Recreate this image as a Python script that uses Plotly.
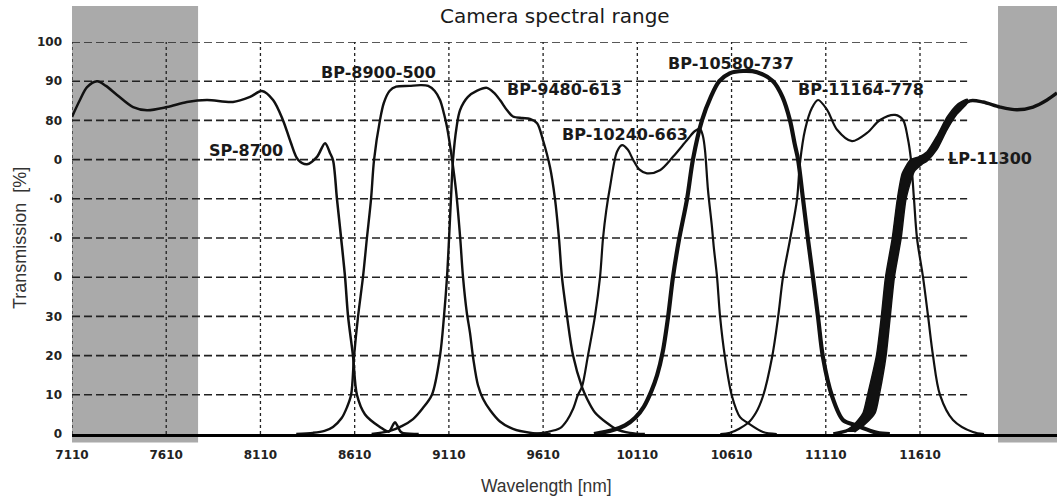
import plotly.graph_objects as go

# ---- filter transmission curves: wavelength [nm] and transmission [%] ----
sp_8700_wl = [7110, 7152, 7190, 7243, 7290, 7349, 7434, 7508, 7614, 7720, 7826, 7964, 8055, 8118,
              8177, 8230, 8270, 8309, 8357, 8410, 8453, 8479, 8495, 8516, 8538, 8559, 8575, 8601,
              8622, 8665, 8744, 8792, 8812, 8824, 8838, 8858, 8950]
sp_8700_t = [80.9, 85.2, 88.5, 90.0, 88.8, 86.5, 83.4, 82.6, 83.4, 84.7, 85.2, 84.7, 86.0, 87.5,
             85.2, 80.0, 74.5, 70.0, 68.8, 70.7, 74.2, 71.7, 69.9, 60.0, 50.0, 40.0, 30.0, 20.0,
             10.0, 5.0, 1.8, 0.6, 2.2, 3.0, 2.0, 0.4, 0.0]

bp_8900_wl = [8300, 8389, 8450, 8495, 8540, 8569, 8591, 8607, 8628, 8654, 8675, 8697, 8713, 8744,
              8765, 8795, 8830, 8900, 8960, 9000, 9035, 9063, 9085, 9100, 9127, 9148, 9170, 9185,
              9205, 9222, 9240, 9264, 9291, 9330, 9381, 9450, 9556, 9650]
bp_8900_t = [0.0, 0.3, 0.8, 1.8, 4.0, 6.8, 10.0, 20.0, 30.0, 40.0, 50.0, 60.0, 70.0, 80.0,
             84.5, 87.5, 88.6, 88.8, 89.0, 88.8, 87.5, 85.2, 81.5, 78.3, 70.0, 62.0, 50.0, 40.0,
             31.0, 25.8, 19.0, 12.5, 9.0, 6.0, 3.2, 1.3, 0.2, 0.0]

bp_9480_wl = [8700, 8798, 8860, 8920, 8970, 9020, 9063, 9084, 9100, 9111, 9121, 9132, 9150, 9169,
              9211, 9260, 9312, 9350, 9381, 9420, 9450, 9500, 9540, 9578, 9609, 9647, 9673, 9694,
              9710, 9737, 9769, 9816, 9843, 9885, 9949, 10000, 10071, 10150]
bp_9480_t = [0.0, 0.8, 2.0, 3.8, 6.5, 10.0, 20.0, 30.0, 40.0, 50.0, 60.0, 70.0, 78.0, 82.6,
             86.0, 87.6, 88.3, 87.0, 85.2, 82.5, 81.0, 80.6, 80.4, 79.3, 75.0, 68.0, 60.0, 50.0,
             40.0, 30.0, 20.0, 12.0, 9.0, 5.5, 2.8, 1.2, 0.3, 0.0]

bp_10240_wl = [9550, 9631, 9700, 9737, 9770, 9795, 9816, 9848, 9885, 9912, 9928, 9945, 9965, 10002,
               10029, 10060, 10087, 10120, 10161, 10230, 10299, 10374, 10416, 10443, 10458, 10469,
               10485, 10506, 10515, 10533, 10549, 10575, 10612, 10655, 10697, 10777, 10850]
bp_10240_t = [0.0, 0.5, 1.5, 3.5, 6.5, 10.0, 12.0, 20.0, 30.0, 40.0, 50.0, 57.0, 63.0, 72.0,
              73.7, 72.5, 70.0, 67.5, 66.5, 67.3, 70.7, 75.0, 77.3, 77.8, 76.0, 72.4,
              62.2, 52.8, 48.0, 40.0, 30.0, 19.6, 9.7, 4.3, 2.8, 0.5, 0.0]

bp_10580_wl = [9880, 9981, 10045, 10100, 10145, 10185, 10215, 10245, 10273, 10299, 10331, 10374,
               10405, 10453, 10500, 10545, 10600, 10671, 10745, 10830, 10880, 10920, 10945, 10963,
               10989, 11016, 11042, 11069, 11095, 11143, 11201, 11265, 11382, 11450]
bp_10580_t = [0.0, 1.0, 2.2, 4.2, 7.0, 11.0, 15.0, 21.0, 29.8, 40.0, 49.5, 60.0,
              70.0, 80.0, 86.0, 90.0, 92.0, 92.6, 92.3, 90.0, 86.0, 80.0, 74.0, 70.0,
              60.0, 49.5, 40.0, 29.8, 19.6, 9.7, 3.6, 2.3, 0.3, 0.0]

bp_11164_wl = [10550, 10602, 10697, 10740, 10777, 10825, 10857, 10883, 10920, 10957, 10973, 11000,
               11037, 11069, 11117, 11170, 11249, 11329, 11398, 11478, 11520, 11545, 11562, 11578,
               11594, 11626, 11653, 11679, 11716, 11785, 11891, 11950]
bp_11164_t = [0.0, 0.3, 2.8, 5.5, 9.7, 19.6, 29.8, 40.0, 49.5, 59.7, 69.1, 77.6,
              83.2, 85.2, 82.7, 77.6, 74.7, 76.8, 80.1, 81.4, 80.1, 75.5, 70.0, 60.0,
              50.0, 40.0, 30.0, 20.0, 10.0, 3.6, 0.5, 0.0]

lp_11300_wl = [11150, 11230, 11290, 11340, 11365, 11406, 11430, 11451, 11485, 11512, 11540, 11573,
               11610, 11647, 11700, 11753, 11806, 11875, 11944, 12035, 12125, 12210, 12284, 12337]
lp_11300_t = [0.0, 1.0, 3.0, 6.5, 10.0, 20.0, 30.0, 40.0, 50.0, 58.0, 64.0, 68.0,
              69.5, 70.8, 74.3, 79.3, 82.7, 85.0, 84.7, 83.4, 82.7, 83.4, 85.2, 87.0]

# spread of the repeated long-pass measurements (upper and lower envelope)
lp_band_upper_wl = [11215, 11262, 11308, 11332, 11379, 11405, 11427, 11463, 11490, 11516, 11560,
                    11600, 11647, 11700, 11753, 11806, 11860]
lp_band_upper_t = [0.5, 2.5, 5.4, 10.0, 20.0, 30.0, 40.0, 50.0, 60.0, 66.5, 70.0,
                   70.6, 72.0, 76.0, 80.8, 84.0, 85.4]
lp_band_lower_wl = [11262, 11318, 11372, 11394, 11430, 11452, 11474, 11510, 11536, 11580, 11620,
                    11647, 11700, 11753, 11806, 11860]
lp_band_lower_t = [0.5, 2.5, 5.4, 10.0, 20.0, 30.0, 40.0, 50.0, 60.0, 67.0, 68.8,
                   69.6, 72.6, 77.6, 81.6, 84.4]

filter_names = ["SP-8700", "BP-8900-500", "BP-9480-613", "BP-10240-663",
                "BP-10580-737", "BP-11164-778", "LP-11300"]

# ---- axes ----
x_tick_values = [7110, 7610, 8110, 8610, 9110, 9610, 10110, 10610, 11110, 11610]
x_tick_labels = ["7110", "7610", "8110", "8610", "9110", "9610", "10110", "10610", "11110", "11610"]
y_tick_values = [0, 10, 20, 30, 40, 50, 60, 70, 80, 90, 100]
y_tick_labels = ["0", "10", "20", "30", "0", "·0", "·0", "0", "80", "90", "100"]

x_range = [7110, 12337]
grid_end = 11860
outside_bands = [(7110, 7779), (12024, 12337)]

INK = "#111111"

fig = go.Figure()

curves = [
    (sp_8700_wl, sp_8700_t, 2.5),
    (bp_8900_wl, bp_8900_t, 2.4),
    (bp_9480_wl, bp_9480_t, 2.4),
    (bp_10240_wl, bp_10240_t, 2.2),
    (bp_10580_wl, bp_10580_t, 4.2),
    (bp_11164_wl, bp_11164_t, 2.2),
    (lp_11300_wl, lp_11300_t, 3.4),
]
for name, (wl, t, w) in zip(filter_names, curves):
    fig.add_trace(go.Scatter(
        x=wl, y=t, mode="lines", name=name,
        line=dict(color=INK, width=w, shape="spline", smoothing=0.9),
        showlegend=False, hoverinfo="x+y+name",
    ))

# envelope of the long-pass curve drawn as a filled band
fig.add_trace(go.Scatter(
    x=lp_band_upper_wl + lp_band_lower_wl[::-1],
    y=lp_band_upper_t + lp_band_lower_t[::-1],
    mode="lines", fill="toself", fillcolor=INK,
    line=dict(color=INK, width=1.5, shape="spline", smoothing=0.6),
    showlegend=False, hoverinfo="skip",
))

span = x_range[1] - x_range[0]
shapes = []
# grey areas outside the camera's spectral range
for lo, hi in outside_bands:
    shapes.append(dict(
        type="rect", xref="paper", yref="paper",
        x0=(lo - x_range[0]) / span, x1=(hi - x_range[0]) / span,
        y0=-0.022, y1=1.092,
        fillcolor="#aaaaaa", line=dict(width=0), layer="below",
    ))
# dashed horizontal grid
for v in y_tick_values[1:]:
    shapes.append(dict(
        type="line", xref="x", yref="y", x0=x_range[0], x1=grid_end, y0=v, y1=v,
        line=dict(color="#222222", width=1.6, dash="8px,4px"), layer="below",
    ))
# dotted vertical grid
for v in x_tick_values:
    shapes.append(dict(
        type="line", xref="x", yref="y", x0=v, x1=v, y0=0, y1=100,
        line=dict(color="#222222", width=1.3, dash="3px,3px"), layer="below",
    ))

label_pos = {
    "SP-8700": (8033, 72.2),
    "BP-8900-500": (8739, 92.1),
    "BP-9480-613": (9726, 87.8),
    "BP-10240-663": (10045, 76.3),
    "BP-10580-737": (10607, 94.6),
    "BP-11164-778": (11297, 87.8),
    "LP-11300": (11982, 70.4),
}
annotations = []
for name in filter_names:
    lx, ly = label_pos[name]
    annotations.append(dict(
        x=lx, y=ly, xref="x", yref="y", text=name, showarrow=False,
        xanchor="center", yanchor="middle",
        font=dict(family="DejaVu Sans", size=16, color="#1a1a1a", weight="bold"),
    ))

annotations.append(dict(
    x=0.4904, y=1.066, xref="paper", yref="paper", text="Camera spectral range",
    showarrow=False, xanchor="center", yanchor="middle",
    font=dict(family="DejaVu Sans", size=20, color="#1a1a1a"),
))
annotations.append(dict(
    x=0.482, y=-0.1327, xref="paper", yref="paper", text="Wavelength [nm]",
    showarrow=False, xanchor="center", yanchor="middle",
    font=dict(family="Liberation Sans", size=17.5, color="#333333"),
))
annotations.append(dict(
    x=-0.0528, y=0.5, xref="paper", yref="paper", text="Transmission  [%]",
    showarrow=False, xanchor="center", yanchor="middle", textangle=-90,
    font=dict(family="Liberation Sans", size=18, color="#333333"),
))

fig.update_layout(
    width=1057, height=499,
    margin=dict(l=72, r=0, t=42, b=65),
    paper_bgcolor="white",
    plot_bgcolor="rgba(0,0,0,0)",
    shapes=shapes,
    annotations=annotations,
    showlegend=False,
)
fig.update_xaxes(
    range=x_range, showgrid=False, zeroline=False,
    tickmode="array", tickvals=x_tick_values, ticktext=x_tick_labels,
    ticks="", ticklabelstandoff=8,
    showline=True, linecolor="#000000", linewidth=3,
    tickfont=dict(family="DejaVu Sans", size=12, color="#222222", weight="bold"),
)
fig.update_yaxes(
    range=[0, 100], showgrid=False, zeroline=False,
    tickmode="array", tickvals=y_tick_values, ticktext=y_tick_labels,
    ticks="", ticklabelstandoff=9, showline=False,
    tickfont=dict(family="DejaVu Sans", size=12, color="#222222", weight="bold"),
)

fig.write_html("out.html")
